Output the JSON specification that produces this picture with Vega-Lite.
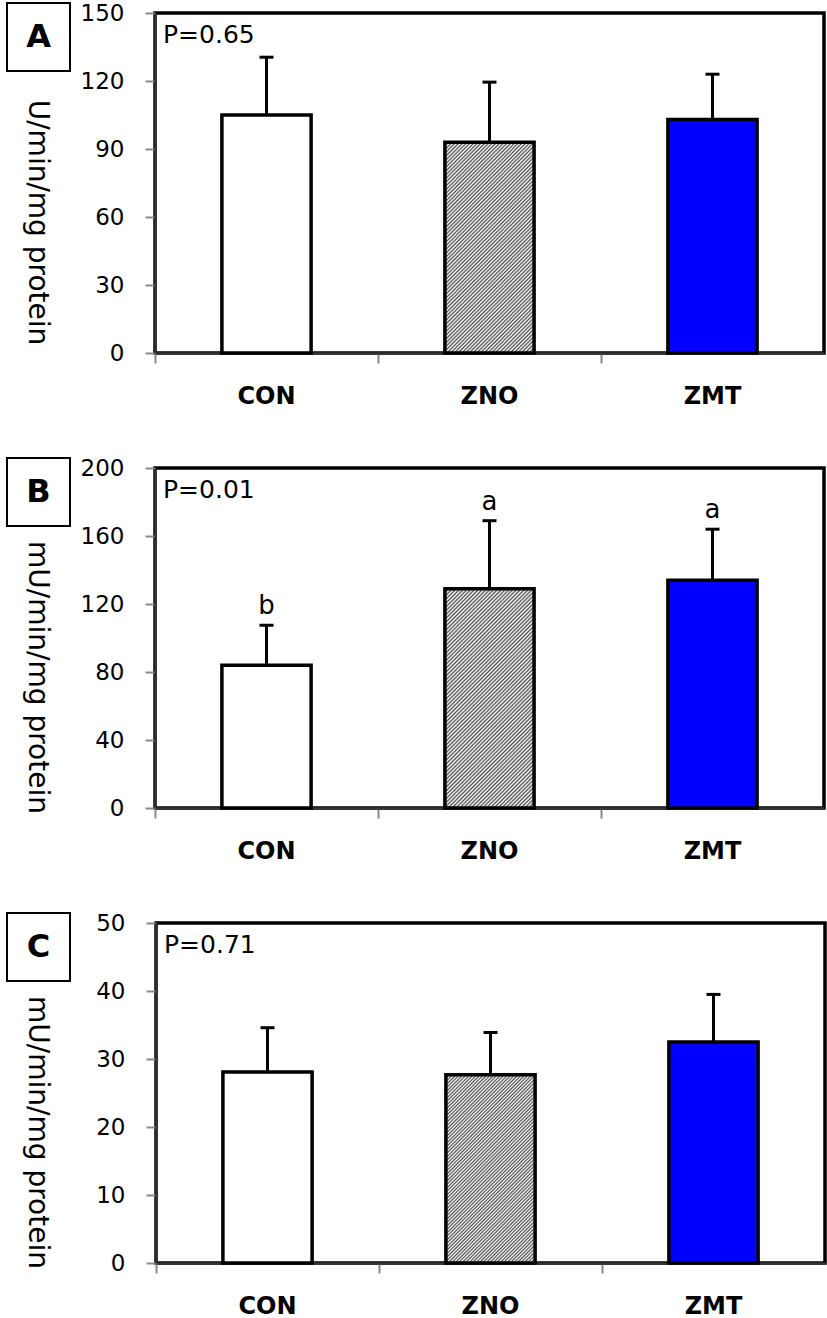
{
  "$schema": "https://vega.github.io/schema/vega-lite/v6.json",
  "background": "white",
  "padding": {"left": 6, "top": 0, "right": 0, "bottom": 0},
  "datasets": {
    "bars": [
      {"panel": "A", "group": "CON", "mean": 105, "upper": 130.5, "sig": ""},
      {"panel": "A", "group": "ZNO", "mean": 93, "upper": 119.5, "sig": ""},
      {"panel": "A", "group": "ZMT", "mean": 103, "upper": 123, "sig": ""},
      {"panel": "B", "group": "CON", "mean": 84, "upper": 107.5, "sig": "b"},
      {"panel": "B", "group": "ZNO", "mean": 129, "upper": 169, "sig": "a"},
      {"panel": "B", "group": "ZMT", "mean": 134, "upper": 164, "sig": "a"},
      {"panel": "C", "group": "CON", "mean": 28.1, "upper": 34.6, "sig": ""},
      {"panel": "C", "group": "ZNO", "mean": 27.7, "upper": 33.9, "sig": ""},
      {"panel": "C", "group": "ZMT", "mean": 32.5, "upper": 39.5, "sig": ""}
    ],
    "panels": [{"panel": "A"}, {"panel": "B"}, {"panel": "C"}],
    "none": []
  },
  "vconcat": [
    {
      "concat": [
        {
          "width": 63, "height": 68,
          "view": {"stroke": "black", "strokeWidth": 2, "fill": "white"},
          "data": {"name": "panels"},
          "transform": [{"filter": "datum.panel === 'A'"}],
          "mark": {"type": "text", "fontSize": 32, "fontWeight": "bold", "align": "center", "baseline": "middle"},
          "encoding": {"text": {"field": "panel"}}
        },
        {
          "vconcat": [
            {"width": 10, "height": 1, "view": {"stroke": null}, "data": {"name": "none"}, "mark": "point"},
            {
              "width": 669, "height": 340,
              "view": {"stroke": "black", "strokeWidth": 3.5},
              "data": {"name": "bars"},
              "transform": [{"filter": "datum.panel === 'A'"}],
              "title": {"text": "P=0.65"},
              "encoding": {
                "x": {"field": "group", "type": "nominal", "sort": ["CON", "ZNO", "ZMT"], "scale": {"paddingInner": 0.6, "paddingOuter": 0.3}, "axis": {"title": null}}
              },
              "layer": [
                {
                  "transform": [{"filter": "datum.group !== 'ZNO'"}],
                  "mark": {"type": "bar", "stroke": "black", "strokeWidth": 3.5},
                  "encoding": {
                    "y": {"field": "mean", "type": "quantitative", "scale": {"domain": [0, 150], "nice": false}, "axis": {"values": [0, 30, 60, 90, 120, 150], "title": "U/min/mg protein", "titlePadding": 30}},
                    "fill": {"field": "group", "type": "nominal", "scale": {"domain": ["CON", "ZMT"], "range": ["#ffffff", "#0000ff"]}, "legend": null}
                  }
                },
                {
                  "transform": [{"filter": "datum.group === 'ZNO'"}],
                  "mark": {"type": "bar", "stroke": "black", "strokeWidth": 3.5, "fill": {
              "gradient": "linear", "x1": 0, "y1": 0, "x2": 0.51, "y2": 1.2,
              "stops": [
                {"offset": 0, "color": "#505050"}, {"offset": 0.00625, "color": "#fff"}, {"offset": 0.0125, "color": "#505050"}, {"offset": 0.01875, "color": "#fff"}, {"offset": 0.025, "color": "#505050"}, {"offset": 0.03125, "color": "#fff"}, {"offset": 0.0375, "color": "#505050"}, {"offset": 0.04375, "color": "#fff"}, {"offset": 0.05, "color": "#505050"}, {"offset": 0.05625, "color": "#fff"}, {"offset": 0.0625, "color": "#505050"}, {"offset": 0.06875, "color": "#fff"}, {"offset": 0.075, "color": "#505050"}, {"offset": 0.08125, "color": "#fff"}, {"offset": 0.0875, "color": "#505050"}, {"offset": 0.09375, "color": "#fff"},
                {"offset": 0.1, "color": "#505050"}, {"offset": 0.10625, "color": "#fff"}, {"offset": 0.1125, "color": "#505050"}, {"offset": 0.11875, "color": "#fff"}, {"offset": 0.125, "color": "#505050"}, {"offset": 0.13125, "color": "#fff"}, {"offset": 0.1375, "color": "#505050"}, {"offset": 0.14375, "color": "#fff"}, {"offset": 0.15, "color": "#505050"}, {"offset": 0.15625, "color": "#fff"}, {"offset": 0.1625, "color": "#505050"}, {"offset": 0.16875, "color": "#fff"}, {"offset": 0.175, "color": "#505050"}, {"offset": 0.18125, "color": "#fff"}, {"offset": 0.1875, "color": "#505050"}, {"offset": 0.19375, "color": "#fff"},
                {"offset": 0.2, "color": "#505050"}, {"offset": 0.20625, "color": "#fff"}, {"offset": 0.2125, "color": "#505050"}, {"offset": 0.21875, "color": "#fff"}, {"offset": 0.225, "color": "#505050"}, {"offset": 0.23125, "color": "#fff"}, {"offset": 0.2375, "color": "#505050"}, {"offset": 0.24375, "color": "#fff"}, {"offset": 0.25, "color": "#505050"}, {"offset": 0.25625, "color": "#fff"}, {"offset": 0.2625, "color": "#505050"}, {"offset": 0.26875, "color": "#fff"}, {"offset": 0.275, "color": "#505050"}, {"offset": 0.28125, "color": "#fff"}, {"offset": 0.2875, "color": "#505050"}, {"offset": 0.29375, "color": "#fff"},
                {"offset": 0.3, "color": "#505050"}, {"offset": 0.30625, "color": "#fff"}, {"offset": 0.3125, "color": "#505050"}, {"offset": 0.31875, "color": "#fff"}, {"offset": 0.325, "color": "#505050"}, {"offset": 0.33125, "color": "#fff"}, {"offset": 0.3375, "color": "#505050"}, {"offset": 0.34375, "color": "#fff"}, {"offset": 0.35, "color": "#505050"}, {"offset": 0.35625, "color": "#fff"}, {"offset": 0.3625, "color": "#505050"}, {"offset": 0.36875, "color": "#fff"}, {"offset": 0.375, "color": "#505050"}, {"offset": 0.38125, "color": "#fff"}, {"offset": 0.3875, "color": "#505050"}, {"offset": 0.39375, "color": "#fff"},
                {"offset": 0.4, "color": "#505050"}, {"offset": 0.40625, "color": "#fff"}, {"offset": 0.4125, "color": "#505050"}, {"offset": 0.41875, "color": "#fff"}, {"offset": 0.425, "color": "#505050"}, {"offset": 0.43125, "color": "#fff"}, {"offset": 0.4375, "color": "#505050"}, {"offset": 0.44375, "color": "#fff"}, {"offset": 0.45, "color": "#505050"}, {"offset": 0.45625, "color": "#fff"}, {"offset": 0.4625, "color": "#505050"}, {"offset": 0.46875, "color": "#fff"}, {"offset": 0.475, "color": "#505050"}, {"offset": 0.48125, "color": "#fff"}, {"offset": 0.4875, "color": "#505050"}, {"offset": 0.49375, "color": "#fff"},
                {"offset": 0.5, "color": "#505050"}, {"offset": 0.50625, "color": "#fff"}, {"offset": 0.5125, "color": "#505050"}, {"offset": 0.51875, "color": "#fff"}, {"offset": 0.525, "color": "#505050"}, {"offset": 0.53125, "color": "#fff"}, {"offset": 0.5375, "color": "#505050"}, {"offset": 0.54375, "color": "#fff"}, {"offset": 0.55, "color": "#505050"}, {"offset": 0.55625, "color": "#fff"}, {"offset": 0.5625, "color": "#505050"}, {"offset": 0.56875, "color": "#fff"}, {"offset": 0.575, "color": "#505050"}, {"offset": 0.58125, "color": "#fff"}, {"offset": 0.5875, "color": "#505050"}, {"offset": 0.59375, "color": "#fff"},
                {"offset": 0.6, "color": "#505050"}, {"offset": 0.60625, "color": "#fff"}, {"offset": 0.6125, "color": "#505050"}, {"offset": 0.61875, "color": "#fff"}, {"offset": 0.625, "color": "#505050"}, {"offset": 0.63125, "color": "#fff"}, {"offset": 0.6375, "color": "#505050"}, {"offset": 0.64375, "color": "#fff"}, {"offset": 0.65, "color": "#505050"}, {"offset": 0.65625, "color": "#fff"}, {"offset": 0.6625, "color": "#505050"}, {"offset": 0.66875, "color": "#fff"}, {"offset": 0.675, "color": "#505050"}, {"offset": 0.68125, "color": "#fff"}, {"offset": 0.6875, "color": "#505050"}, {"offset": 0.69375, "color": "#fff"},
                {"offset": 0.7, "color": "#505050"}, {"offset": 0.70625, "color": "#fff"}, {"offset": 0.7125, "color": "#505050"}, {"offset": 0.71875, "color": "#fff"}, {"offset": 0.725, "color": "#505050"}, {"offset": 0.73125, "color": "#fff"}, {"offset": 0.7375, "color": "#505050"}, {"offset": 0.74375, "color": "#fff"}, {"offset": 0.75, "color": "#505050"}, {"offset": 0.75625, "color": "#fff"}, {"offset": 0.7625, "color": "#505050"}, {"offset": 0.76875, "color": "#fff"}, {"offset": 0.775, "color": "#505050"}, {"offset": 0.78125, "color": "#fff"}, {"offset": 0.7875, "color": "#505050"}, {"offset": 0.79375, "color": "#fff"},
                {"offset": 0.8, "color": "#505050"}, {"offset": 0.80625, "color": "#fff"}, {"offset": 0.8125, "color": "#505050"}, {"offset": 0.81875, "color": "#fff"}, {"offset": 0.825, "color": "#505050"}, {"offset": 0.83125, "color": "#fff"}, {"offset": 0.8375, "color": "#505050"}, {"offset": 0.84375, "color": "#fff"}, {"offset": 0.85, "color": "#505050"}, {"offset": 0.85625, "color": "#fff"}, {"offset": 0.8625, "color": "#505050"}, {"offset": 0.86875, "color": "#fff"}, {"offset": 0.875, "color": "#505050"}, {"offset": 0.88125, "color": "#fff"}, {"offset": 0.8875, "color": "#505050"}, {"offset": 0.89375, "color": "#fff"},
                {"offset": 0.9, "color": "#505050"}, {"offset": 0.90625, "color": "#fff"}, {"offset": 0.9125, "color": "#505050"}, {"offset": 0.91875, "color": "#fff"}, {"offset": 0.925, "color": "#505050"}, {"offset": 0.93125, "color": "#fff"}, {"offset": 0.9375, "color": "#505050"}, {"offset": 0.94375, "color": "#fff"}, {"offset": 0.95, "color": "#505050"}, {"offset": 0.95625, "color": "#fff"}, {"offset": 0.9625, "color": "#505050"}, {"offset": 0.96875, "color": "#fff"}, {"offset": 0.975, "color": "#505050"}, {"offset": 0.98125, "color": "#fff"}, {"offset": 0.9875, "color": "#505050"}, {"offset": 0.99375, "color": "#fff"},
                {"offset": 1, "color": "#505050"}
              ]
            }},
                  "encoding": {"y": {"field": "mean", "type": "quantitative", "scale": {"domain": [0, 150], "nice": false}}}
                },
                {
                  "mark": {"type": "rule", "strokeWidth": 3, "color": "black"},
                  "encoding": {"y": {"field": "mean", "type": "quantitative", "scale": {"domain": [0, 150], "nice": false}}, "y2": {"field": "upper"}}
                },
                {
                  "mark": {"type": "tick", "thickness": 3, "size": 14, "color": "black", "opacity": 1},
                  "encoding": {"y": {"field": "upper", "type": "quantitative", "scale": {"domain": [0, 150], "nice": false}}}
                },
                {
                  "mark": {"type": "text", "fontSize": 26, "dy": -11, "baseline": "alphabetic"},
                  "encoding": {"y": {"field": "upper", "type": "quantitative", "scale": {"domain": [0, 150], "nice": false}}, "text": {"field": "sig"}}
                }
              ]
            }
          ],
          "spacing": -4,
          "bounds": "full"
        }
      ],
      "columns": 2,
      "align": "none",
      "spacing": {"column": -51, "row": 0},
      "bounds": "full"
    },
    {
      "concat": [
        {
          "width": 63, "height": 68,
          "view": {"stroke": "black", "strokeWidth": 2, "fill": "white"},
          "data": {"name": "panels"},
          "transform": [{"filter": "datum.panel === 'B'"}],
          "mark": {"type": "text", "fontSize": 32, "fontWeight": "bold", "align": "center", "baseline": "middle"},
          "encoding": {"text": {"field": "panel"}}
        },
        {
          "vconcat": [
            {"width": 10, "height": 1, "view": {"stroke": null}, "data": {"name": "none"}, "mark": "point"},
            {
              "width": 669, "height": 340,
              "view": {"stroke": "black", "strokeWidth": 3.5},
              "data": {"name": "bars"},
              "transform": [{"filter": "datum.panel === 'B'"}],
              "title": {"text": "P=0.01"},
              "encoding": {
                "x": {"field": "group", "type": "nominal", "sort": ["CON", "ZNO", "ZMT"], "scale": {"paddingInner": 0.6, "paddingOuter": 0.3}, "axis": {"title": null}}
              },
              "layer": [
                {
                  "transform": [{"filter": "datum.group !== 'ZNO'"}],
                  "mark": {"type": "bar", "stroke": "black", "strokeWidth": 3.5},
                  "encoding": {
                    "y": {"field": "mean", "type": "quantitative", "scale": {"domain": [0, 200], "nice": false}, "axis": {"values": [0, 40, 80, 120, 160, 200], "title": "mU/min/mg protein", "titlePadding": 30}},
                    "fill": {"field": "group", "type": "nominal", "scale": {"domain": ["CON", "ZMT"], "range": ["#ffffff", "#0000ff"]}, "legend": null}
                  }
                },
                {
                  "transform": [{"filter": "datum.group === 'ZNO'"}],
                  "mark": {"type": "bar", "stroke": "black", "strokeWidth": 3.5, "fill": {
              "gradient": "linear", "x1": 0, "y1": 0, "x2": 0.49, "y2": 1.2,
              "stops": [
                {"offset": 0, "color": "#505050"}, {"offset": 0.00625, "color": "#fff"}, {"offset": 0.0125, "color": "#505050"}, {"offset": 0.01875, "color": "#fff"}, {"offset": 0.025, "color": "#505050"}, {"offset": 0.03125, "color": "#fff"}, {"offset": 0.0375, "color": "#505050"}, {"offset": 0.04375, "color": "#fff"}, {"offset": 0.05, "color": "#505050"}, {"offset": 0.05625, "color": "#fff"}, {"offset": 0.0625, "color": "#505050"}, {"offset": 0.06875, "color": "#fff"}, {"offset": 0.075, "color": "#505050"}, {"offset": 0.08125, "color": "#fff"}, {"offset": 0.0875, "color": "#505050"}, {"offset": 0.09375, "color": "#fff"},
                {"offset": 0.1, "color": "#505050"}, {"offset": 0.10625, "color": "#fff"}, {"offset": 0.1125, "color": "#505050"}, {"offset": 0.11875, "color": "#fff"}, {"offset": 0.125, "color": "#505050"}, {"offset": 0.13125, "color": "#fff"}, {"offset": 0.1375, "color": "#505050"}, {"offset": 0.14375, "color": "#fff"}, {"offset": 0.15, "color": "#505050"}, {"offset": 0.15625, "color": "#fff"}, {"offset": 0.1625, "color": "#505050"}, {"offset": 0.16875, "color": "#fff"}, {"offset": 0.175, "color": "#505050"}, {"offset": 0.18125, "color": "#fff"}, {"offset": 0.1875, "color": "#505050"}, {"offset": 0.19375, "color": "#fff"},
                {"offset": 0.2, "color": "#505050"}, {"offset": 0.20625, "color": "#fff"}, {"offset": 0.2125, "color": "#505050"}, {"offset": 0.21875, "color": "#fff"}, {"offset": 0.225, "color": "#505050"}, {"offset": 0.23125, "color": "#fff"}, {"offset": 0.2375, "color": "#505050"}, {"offset": 0.24375, "color": "#fff"}, {"offset": 0.25, "color": "#505050"}, {"offset": 0.25625, "color": "#fff"}, {"offset": 0.2625, "color": "#505050"}, {"offset": 0.26875, "color": "#fff"}, {"offset": 0.275, "color": "#505050"}, {"offset": 0.28125, "color": "#fff"}, {"offset": 0.2875, "color": "#505050"}, {"offset": 0.29375, "color": "#fff"},
                {"offset": 0.3, "color": "#505050"}, {"offset": 0.30625, "color": "#fff"}, {"offset": 0.3125, "color": "#505050"}, {"offset": 0.31875, "color": "#fff"}, {"offset": 0.325, "color": "#505050"}, {"offset": 0.33125, "color": "#fff"}, {"offset": 0.3375, "color": "#505050"}, {"offset": 0.34375, "color": "#fff"}, {"offset": 0.35, "color": "#505050"}, {"offset": 0.35625, "color": "#fff"}, {"offset": 0.3625, "color": "#505050"}, {"offset": 0.36875, "color": "#fff"}, {"offset": 0.375, "color": "#505050"}, {"offset": 0.38125, "color": "#fff"}, {"offset": 0.3875, "color": "#505050"}, {"offset": 0.39375, "color": "#fff"},
                {"offset": 0.4, "color": "#505050"}, {"offset": 0.40625, "color": "#fff"}, {"offset": 0.4125, "color": "#505050"}, {"offset": 0.41875, "color": "#fff"}, {"offset": 0.425, "color": "#505050"}, {"offset": 0.43125, "color": "#fff"}, {"offset": 0.4375, "color": "#505050"}, {"offset": 0.44375, "color": "#fff"}, {"offset": 0.45, "color": "#505050"}, {"offset": 0.45625, "color": "#fff"}, {"offset": 0.4625, "color": "#505050"}, {"offset": 0.46875, "color": "#fff"}, {"offset": 0.475, "color": "#505050"}, {"offset": 0.48125, "color": "#fff"}, {"offset": 0.4875, "color": "#505050"}, {"offset": 0.49375, "color": "#fff"},
                {"offset": 0.5, "color": "#505050"}, {"offset": 0.50625, "color": "#fff"}, {"offset": 0.5125, "color": "#505050"}, {"offset": 0.51875, "color": "#fff"}, {"offset": 0.525, "color": "#505050"}, {"offset": 0.53125, "color": "#fff"}, {"offset": 0.5375, "color": "#505050"}, {"offset": 0.54375, "color": "#fff"}, {"offset": 0.55, "color": "#505050"}, {"offset": 0.55625, "color": "#fff"}, {"offset": 0.5625, "color": "#505050"}, {"offset": 0.56875, "color": "#fff"}, {"offset": 0.575, "color": "#505050"}, {"offset": 0.58125, "color": "#fff"}, {"offset": 0.5875, "color": "#505050"}, {"offset": 0.59375, "color": "#fff"},
                {"offset": 0.6, "color": "#505050"}, {"offset": 0.60625, "color": "#fff"}, {"offset": 0.6125, "color": "#505050"}, {"offset": 0.61875, "color": "#fff"}, {"offset": 0.625, "color": "#505050"}, {"offset": 0.63125, "color": "#fff"}, {"offset": 0.6375, "color": "#505050"}, {"offset": 0.64375, "color": "#fff"}, {"offset": 0.65, "color": "#505050"}, {"offset": 0.65625, "color": "#fff"}, {"offset": 0.6625, "color": "#505050"}, {"offset": 0.66875, "color": "#fff"}, {"offset": 0.675, "color": "#505050"}, {"offset": 0.68125, "color": "#fff"}, {"offset": 0.6875, "color": "#505050"}, {"offset": 0.69375, "color": "#fff"},
                {"offset": 0.7, "color": "#505050"}, {"offset": 0.70625, "color": "#fff"}, {"offset": 0.7125, "color": "#505050"}, {"offset": 0.71875, "color": "#fff"}, {"offset": 0.725, "color": "#505050"}, {"offset": 0.73125, "color": "#fff"}, {"offset": 0.7375, "color": "#505050"}, {"offset": 0.74375, "color": "#fff"}, {"offset": 0.75, "color": "#505050"}, {"offset": 0.75625, "color": "#fff"}, {"offset": 0.7625, "color": "#505050"}, {"offset": 0.76875, "color": "#fff"}, {"offset": 0.775, "color": "#505050"}, {"offset": 0.78125, "color": "#fff"}, {"offset": 0.7875, "color": "#505050"}, {"offset": 0.79375, "color": "#fff"},
                {"offset": 0.8, "color": "#505050"}, {"offset": 0.80625, "color": "#fff"}, {"offset": 0.8125, "color": "#505050"}, {"offset": 0.81875, "color": "#fff"}, {"offset": 0.825, "color": "#505050"}, {"offset": 0.83125, "color": "#fff"}, {"offset": 0.8375, "color": "#505050"}, {"offset": 0.84375, "color": "#fff"}, {"offset": 0.85, "color": "#505050"}, {"offset": 0.85625, "color": "#fff"}, {"offset": 0.8625, "color": "#505050"}, {"offset": 0.86875, "color": "#fff"}, {"offset": 0.875, "color": "#505050"}, {"offset": 0.88125, "color": "#fff"}, {"offset": 0.8875, "color": "#505050"}, {"offset": 0.89375, "color": "#fff"},
                {"offset": 0.9, "color": "#505050"}, {"offset": 0.90625, "color": "#fff"}, {"offset": 0.9125, "color": "#505050"}, {"offset": 0.91875, "color": "#fff"}, {"offset": 0.925, "color": "#505050"}, {"offset": 0.93125, "color": "#fff"}, {"offset": 0.9375, "color": "#505050"}, {"offset": 0.94375, "color": "#fff"}, {"offset": 0.95, "color": "#505050"}, {"offset": 0.95625, "color": "#fff"}, {"offset": 0.9625, "color": "#505050"}, {"offset": 0.96875, "color": "#fff"}, {"offset": 0.975, "color": "#505050"}, {"offset": 0.98125, "color": "#fff"}, {"offset": 0.9875, "color": "#505050"}, {"offset": 0.99375, "color": "#fff"},
                {"offset": 1, "color": "#505050"}
              ]
            }},
                  "encoding": {"y": {"field": "mean", "type": "quantitative", "scale": {"domain": [0, 200], "nice": false}}}
                },
                {
                  "mark": {"type": "rule", "strokeWidth": 3, "color": "black"},
                  "encoding": {"y": {"field": "mean", "type": "quantitative", "scale": {"domain": [0, 200], "nice": false}}, "y2": {"field": "upper"}}
                },
                {
                  "mark": {"type": "tick", "thickness": 3, "size": 14, "color": "black", "opacity": 1},
                  "encoding": {"y": {"field": "upper", "type": "quantitative", "scale": {"domain": [0, 200], "nice": false}}}
                },
                {
                  "mark": {"type": "text", "fontSize": 26, "dy": -11, "baseline": "alphabetic"},
                  "encoding": {"y": {"field": "upper", "type": "quantitative", "scale": {"domain": [0, 200], "nice": false}}, "text": {"field": "sig"}}
                }
              ]
            }
          ],
          "spacing": -4,
          "bounds": "full"
        }
      ],
      "columns": 2,
      "align": "none",
      "spacing": {"column": -51, "row": 0},
      "bounds": "full"
    },
    {
      "concat": [
        {
          "width": 63, "height": 68,
          "view": {"stroke": "black", "strokeWidth": 2, "fill": "white"},
          "data": {"name": "panels"},
          "transform": [{"filter": "datum.panel === 'C'"}],
          "mark": {"type": "text", "fontSize": 32, "fontWeight": "bold", "align": "center", "baseline": "middle"},
          "encoding": {"text": {"field": "panel"}}
        },
        {
          "vconcat": [
            {"width": 10, "height": 1, "view": {"stroke": null}, "data": {"name": "none"}, "mark": "point"},
            {
              "width": 669, "height": 340,
              "view": {"stroke": "black", "strokeWidth": 3.5},
              "data": {"name": "bars"},
              "transform": [{"filter": "datum.panel === 'C'"}],
              "title": {"text": "P=0.71"},
              "encoding": {
                "x": {"field": "group", "type": "nominal", "sort": ["CON", "ZNO", "ZMT"], "scale": {"paddingInner": 0.6, "paddingOuter": 0.3}, "axis": {"title": null}}
              },
              "layer": [
                {
                  "transform": [{"filter": "datum.group !== 'ZNO'"}],
                  "mark": {"type": "bar", "stroke": "black", "strokeWidth": 3.5},
                  "encoding": {
                    "y": {"field": "mean", "type": "quantitative", "scale": {"domain": [0, 50], "nice": false}, "axis": {"values": [0, 10, 20, 30, 40, 50], "title": "mU/min/mg protein", "titlePadding": 45}},
                    "fill": {"field": "group", "type": "nominal", "scale": {"domain": ["CON", "ZMT"], "range": ["#ffffff", "#0000ff"]}, "legend": null}
                  }
                },
                {
                  "transform": [{"filter": "datum.group === 'ZNO'"}],
                  "mark": {"type": "bar", "stroke": "black", "strokeWidth": 3.5, "fill": {
              "gradient": "linear", "x1": 0, "y1": 0, "x2": 0.57, "y2": 1.2,
              "stops": [
                {"offset": 0, "color": "#505050"}, {"offset": 0.00625, "color": "#fff"}, {"offset": 0.0125, "color": "#505050"}, {"offset": 0.01875, "color": "#fff"}, {"offset": 0.025, "color": "#505050"}, {"offset": 0.03125, "color": "#fff"}, {"offset": 0.0375, "color": "#505050"}, {"offset": 0.04375, "color": "#fff"}, {"offset": 0.05, "color": "#505050"}, {"offset": 0.05625, "color": "#fff"}, {"offset": 0.0625, "color": "#505050"}, {"offset": 0.06875, "color": "#fff"}, {"offset": 0.075, "color": "#505050"}, {"offset": 0.08125, "color": "#fff"}, {"offset": 0.0875, "color": "#505050"}, {"offset": 0.09375, "color": "#fff"},
                {"offset": 0.1, "color": "#505050"}, {"offset": 0.10625, "color": "#fff"}, {"offset": 0.1125, "color": "#505050"}, {"offset": 0.11875, "color": "#fff"}, {"offset": 0.125, "color": "#505050"}, {"offset": 0.13125, "color": "#fff"}, {"offset": 0.1375, "color": "#505050"}, {"offset": 0.14375, "color": "#fff"}, {"offset": 0.15, "color": "#505050"}, {"offset": 0.15625, "color": "#fff"}, {"offset": 0.1625, "color": "#505050"}, {"offset": 0.16875, "color": "#fff"}, {"offset": 0.175, "color": "#505050"}, {"offset": 0.18125, "color": "#fff"}, {"offset": 0.1875, "color": "#505050"}, {"offset": 0.19375, "color": "#fff"},
                {"offset": 0.2, "color": "#505050"}, {"offset": 0.20625, "color": "#fff"}, {"offset": 0.2125, "color": "#505050"}, {"offset": 0.21875, "color": "#fff"}, {"offset": 0.225, "color": "#505050"}, {"offset": 0.23125, "color": "#fff"}, {"offset": 0.2375, "color": "#505050"}, {"offset": 0.24375, "color": "#fff"}, {"offset": 0.25, "color": "#505050"}, {"offset": 0.25625, "color": "#fff"}, {"offset": 0.2625, "color": "#505050"}, {"offset": 0.26875, "color": "#fff"}, {"offset": 0.275, "color": "#505050"}, {"offset": 0.28125, "color": "#fff"}, {"offset": 0.2875, "color": "#505050"}, {"offset": 0.29375, "color": "#fff"},
                {"offset": 0.3, "color": "#505050"}, {"offset": 0.30625, "color": "#fff"}, {"offset": 0.3125, "color": "#505050"}, {"offset": 0.31875, "color": "#fff"}, {"offset": 0.325, "color": "#505050"}, {"offset": 0.33125, "color": "#fff"}, {"offset": 0.3375, "color": "#505050"}, {"offset": 0.34375, "color": "#fff"}, {"offset": 0.35, "color": "#505050"}, {"offset": 0.35625, "color": "#fff"}, {"offset": 0.3625, "color": "#505050"}, {"offset": 0.36875, "color": "#fff"}, {"offset": 0.375, "color": "#505050"}, {"offset": 0.38125, "color": "#fff"}, {"offset": 0.3875, "color": "#505050"}, {"offset": 0.39375, "color": "#fff"},
                {"offset": 0.4, "color": "#505050"}, {"offset": 0.40625, "color": "#fff"}, {"offset": 0.4125, "color": "#505050"}, {"offset": 0.41875, "color": "#fff"}, {"offset": 0.425, "color": "#505050"}, {"offset": 0.43125, "color": "#fff"}, {"offset": 0.4375, "color": "#505050"}, {"offset": 0.44375, "color": "#fff"}, {"offset": 0.45, "color": "#505050"}, {"offset": 0.45625, "color": "#fff"}, {"offset": 0.4625, "color": "#505050"}, {"offset": 0.46875, "color": "#fff"}, {"offset": 0.475, "color": "#505050"}, {"offset": 0.48125, "color": "#fff"}, {"offset": 0.4875, "color": "#505050"}, {"offset": 0.49375, "color": "#fff"},
                {"offset": 0.5, "color": "#505050"}, {"offset": 0.50625, "color": "#fff"}, {"offset": 0.5125, "color": "#505050"}, {"offset": 0.51875, "color": "#fff"}, {"offset": 0.525, "color": "#505050"}, {"offset": 0.53125, "color": "#fff"}, {"offset": 0.5375, "color": "#505050"}, {"offset": 0.54375, "color": "#fff"}, {"offset": 0.55, "color": "#505050"}, {"offset": 0.55625, "color": "#fff"}, {"offset": 0.5625, "color": "#505050"}, {"offset": 0.56875, "color": "#fff"}, {"offset": 0.575, "color": "#505050"}, {"offset": 0.58125, "color": "#fff"}, {"offset": 0.5875, "color": "#505050"}, {"offset": 0.59375, "color": "#fff"},
                {"offset": 0.6, "color": "#505050"}, {"offset": 0.60625, "color": "#fff"}, {"offset": 0.6125, "color": "#505050"}, {"offset": 0.61875, "color": "#fff"}, {"offset": 0.625, "color": "#505050"}, {"offset": 0.63125, "color": "#fff"}, {"offset": 0.6375, "color": "#505050"}, {"offset": 0.64375, "color": "#fff"}, {"offset": 0.65, "color": "#505050"}, {"offset": 0.65625, "color": "#fff"}, {"offset": 0.6625, "color": "#505050"}, {"offset": 0.66875, "color": "#fff"}, {"offset": 0.675, "color": "#505050"}, {"offset": 0.68125, "color": "#fff"}, {"offset": 0.6875, "color": "#505050"}, {"offset": 0.69375, "color": "#fff"},
                {"offset": 0.7, "color": "#505050"}, {"offset": 0.70625, "color": "#fff"}, {"offset": 0.7125, "color": "#505050"}, {"offset": 0.71875, "color": "#fff"}, {"offset": 0.725, "color": "#505050"}, {"offset": 0.73125, "color": "#fff"}, {"offset": 0.7375, "color": "#505050"}, {"offset": 0.74375, "color": "#fff"}, {"offset": 0.75, "color": "#505050"}, {"offset": 0.75625, "color": "#fff"}, {"offset": 0.7625, "color": "#505050"}, {"offset": 0.76875, "color": "#fff"}, {"offset": 0.775, "color": "#505050"}, {"offset": 0.78125, "color": "#fff"}, {"offset": 0.7875, "color": "#505050"}, {"offset": 0.79375, "color": "#fff"},
                {"offset": 0.8, "color": "#505050"}, {"offset": 0.80625, "color": "#fff"}, {"offset": 0.8125, "color": "#505050"}, {"offset": 0.81875, "color": "#fff"}, {"offset": 0.825, "color": "#505050"}, {"offset": 0.83125, "color": "#fff"}, {"offset": 0.8375, "color": "#505050"}, {"offset": 0.84375, "color": "#fff"}, {"offset": 0.85, "color": "#505050"}, {"offset": 0.85625, "color": "#fff"}, {"offset": 0.8625, "color": "#505050"}, {"offset": 0.86875, "color": "#fff"}, {"offset": 0.875, "color": "#505050"}, {"offset": 0.88125, "color": "#fff"}, {"offset": 0.8875, "color": "#505050"}, {"offset": 0.89375, "color": "#fff"},
                {"offset": 0.9, "color": "#505050"}, {"offset": 0.90625, "color": "#fff"}, {"offset": 0.9125, "color": "#505050"}, {"offset": 0.91875, "color": "#fff"}, {"offset": 0.925, "color": "#505050"}, {"offset": 0.93125, "color": "#fff"}, {"offset": 0.9375, "color": "#505050"}, {"offset": 0.94375, "color": "#fff"}, {"offset": 0.95, "color": "#505050"}, {"offset": 0.95625, "color": "#fff"}, {"offset": 0.9625, "color": "#505050"}, {"offset": 0.96875, "color": "#fff"}, {"offset": 0.975, "color": "#505050"}, {"offset": 0.98125, "color": "#fff"}, {"offset": 0.9875, "color": "#505050"}, {"offset": 0.99375, "color": "#fff"},
                {"offset": 1, "color": "#505050"}
              ]
            }},
                  "encoding": {"y": {"field": "mean", "type": "quantitative", "scale": {"domain": [0, 50], "nice": false}}}
                },
                {
                  "mark": {"type": "rule", "strokeWidth": 3, "color": "black"},
                  "encoding": {"y": {"field": "mean", "type": "quantitative", "scale": {"domain": [0, 50], "nice": false}}, "y2": {"field": "upper"}}
                },
                {
                  "mark": {"type": "tick", "thickness": 3, "size": 14, "color": "black", "opacity": 1},
                  "encoding": {"y": {"field": "upper", "type": "quantitative", "scale": {"domain": [0, 50], "nice": false}}}
                },
                {
                  "mark": {"type": "text", "fontSize": 26, "dy": -11, "baseline": "alphabetic"},
                  "encoding": {"y": {"field": "upper", "type": "quantitative", "scale": {"domain": [0, 50], "nice": false}}, "text": {"field": "sig"}}
                }
              ]
            }
          ],
          "spacing": -4,
          "bounds": "full"
        }
      ],
      "columns": 2,
      "align": "none",
      "spacing": {"column": -51, "row": 0},
      "bounds": "full"
    }
  ],
  "spacing": 45,
  "bounds": "full",
  "config": {
    "font": "DejaVu Sans",
    "text": {"color": "black"},
    "title": {"anchor": "start", "frame": "group", "orient": "top", "baseline": "top", "offset": -46, "dx": 8, "fontSize": 25, "fontWeight": "normal", "color": "black"},
    "axis": {"grid": false, "labelColor": "black", "titleColor": "black", "titleFontWeight": "normal", "domainColor": "#333333", "domainWidth": 2.5, "tickColor": "#888888", "tickWidth": 2, "tickSize": 10},
    "axisY": {"labelFontSize": 23, "labelPadding": 21, "titleFontSize": 28, "titleAngle": 90, "titleBaseline": "top", "titleAlign": "center", "titleY": 209},
    "axisX": {"labelFontSize": 24, "labelFontWeight": "bold", "labelAngle": 0, "labelPadding": 21, "bandPosition": -0.75}
  }
}
